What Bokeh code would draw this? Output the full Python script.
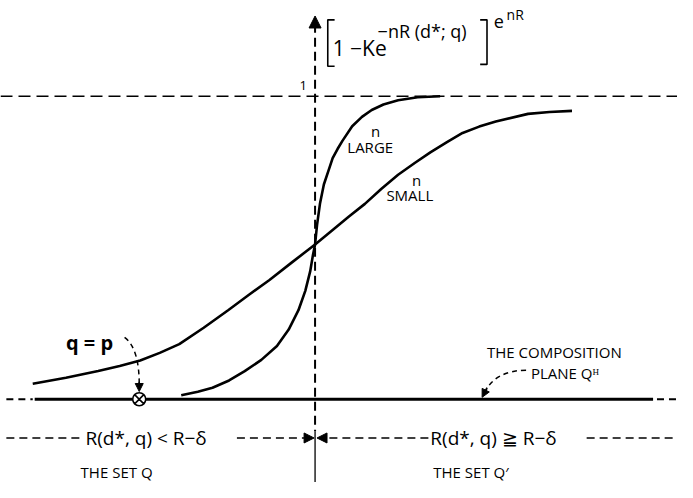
from bokeh.plotting import figure
from bokeh.models import Range1d, Arrow, NormalHead
from bokeh.core.properties import value
from bokeh.embed import file_html
from bokeh.resources import INLINE

# ---- data (x: composition coordinate, y: probability bound value) ----
large_x = [-1.37, -1.20, -1.05, -0.88, -0.72, -0.55, -0.39, -0.27, -0.17, -0.10, -0.05, -0.02,
           0.00, 0.02, 0.05, 0.09, 0.14, 0.18, 0.23, 0.28, 0.38, 0.48, 0.58, 0.70, 0.85, 1.05, 1.28]
large_y = [0.013, 0.025, 0.038, 0.062, 0.093, 0.130, 0.176, 0.230, 0.294, 0.358, 0.422, 0.479,
           0.511, 0.575, 0.645, 0.709, 0.757, 0.796, 0.826, 0.853, 0.901, 0.932, 0.955, 0.973,
           0.987, 0.997, 1.0]
small_x = [-2.89, -2.55, -2.22, -2.00, -1.79, -1.59, -1.39, -1.14, -0.89, -0.68, -0.47, -0.24,
           0.00, 0.18, 0.35, 0.51, 0.68, 0.85, 1.02, 1.18, 1.35, 1.51, 1.68, 1.85, 2.18, 2.40, 2.63]
small_y = [0.051, 0.071, 0.093, 0.110, 0.128, 0.153, 0.182, 0.236, 0.294, 0.344, 0.393, 0.451,
           0.511, 0.559, 0.604, 0.645, 0.695, 0.741, 0.780, 0.815, 0.849, 0.879, 0.900, 0.917,
           0.942, 0.948, 0.952]
upper_level = 1.0
plane_level = 0.0
qp_x = -1.80

FONT = "Open Sans"


def X(px):
    return (px - 322) / 100.0


def Y(py):
    return (412 - py) / 313.0


p = figure(width=677, height=482, output_backend="svg", toolbar_location=None,
           x_range=Range1d(X(0), X(693)), y_range=Range1d(Y(498), Y(0)),
           min_border=0)
p.axis.visible = False
p.grid.visible = False
p.outline_line_color = None
p.background_fill_color = "white"
p.border_fill_color = "white"

K = "black"

# level 1 dashed line
p.line([X(0), X(693)], [upper_level, upper_level], line_color=K, line_width=1.5, line_dash="12 6")

# composition plane
p.line([X(35), X(668)], [plane_level, plane_level], line_color=K, line_width=3)
p.line([X(6), X(33)], [plane_level, plane_level], line_color=K, line_width=2, line_dash="7 5")
p.line([X(672), X(693)], [plane_level, plane_level], line_color=K, line_width=2, line_dash="7 5")

# vertical axis
p.line([0, 0], [Y(24), Y(445)], line_color=K, line_width=2, line_dash="9 5")
p.line([0, 0], [Y(445), Y(498)], line_color=K, line_width=1.3)
p.add_layout(Arrow(end=NormalHead(size=12, fill_color=K, line_color=K), x_start=0, y_start=Y(30),
                   x_end=0, y_end=Y(16), line_width=2, line_color=K))

# curves
p.line(large_x, large_y, line_color=K, line_width=2.6)
p.line(small_x, small_y, line_color=K, line_width=2.6)

# q = p point
p.scatter(x=[qp_x], y=[plane_level], marker="circle_x", size=13, fill_color="white",
          line_color=K, line_width=1.6)
p.bezier(x0=[X(127)], y0=[Y(348)], x1=[X(142)], y1=[Y(396)], cx0=[X(138)], cy0=[Y(356)],
         cx1=[X(142)], cy1=[Y(375)], line_color=K, line_width=1.5, line_dash="5 4")
p.add_layout(Arrow(end=NormalHead(size=8, fill_color=K, line_color=K), x_start=qp_x, y_start=Y(394),
                   x_end=qp_x, y_end=Y(404), line_width=1.5, line_color=K))


def txt(x, y, s, size, align="left", bold=False):
    p.text(x=[X(x)], y=[Y(y)], text=[s], text_font=value(FONT), text_font_size=f"{size}px",
           text_align=align, text_baseline="middle", text_color=K,
           text_font_style="bold" if bold else "normal")


txt(67, 353, "q = p", 20, bold=True)

# top label
p.line([X(342), X(335), X(335), X(342)], [Y(20), Y(20), Y(68), Y(68)], line_color=K, line_width=1.6)
p.line([X(491), X(498), X(498), X(491)], [Y(20), Y(20), Y(66), Y(66)], line_color=K, line_width=1.6)
txt(340, 49, "1 \u2212Ke", 21)
txt(386, 32, "\u2212nR (d*; q)", 18)
txt(505, 22, "e", 18)
txt(518, 14, "nR", 14)
txt(306, 88, "1", 13)

# curve labels
txt(384, 135, "n", 15, align="center")
txt(355, 151, "LARGE", 15)
txt(426, 185, "n", 15, align="center")
txt(395, 201, "SMALL", 15)

# composition plane label
txt(498, 363, "THE COMPOSITION", 15)
txt(543, 385, "PLANE Q\u1d34", 15)
p.bezier(x0=[X(538)], y0=[Y(382)], x1=[X(496)], y1=[Y(405)], cx0=[X(518)], cy0=[Y(382)],
         cx1=[X(502)], cy1=[Y(390)], line_color=K, line_width=1.5, line_dash="5 4")
p.add_layout(Arrow(end=NormalHead(size=8, fill_color=K, line_color=K), x_start=X(498), y_start=Y(400),
                   x_end=X(493), y_end=Y(410), line_width=1.5, line_color=K))

# lower region labels
ly = 452
p.line([X(6), X(85)], [Y(ly), Y(ly)], line_color=K, line_width=1.5, line_dash="8 5")
txt(87, ly, "R(d*, q) < R\u2212\u03b4", 19)
p.add_layout(Arrow(end=NormalHead(size=10, fill_color=K, line_color=K), x_start=X(242), y_start=Y(ly),
                   x_end=X(321), y_end=Y(ly), line_width=1.5, line_color=K, line_dash="8 5"))
p.add_layout(Arrow(end=NormalHead(size=10, fill_color=K, line_color=K), x_start=X(438), y_start=Y(ly),
                   x_end=X(324), y_end=Y(ly), line_width=1.5, line_color=K, line_dash="8 5"))
txt(440, ly, "R(d*, q) \u2267 R\u2212\u03b4", 19)
p.line([X(600), X(693)], [Y(ly), Y(ly)], line_color=K, line_width=1.5, line_dash="8 5")

txt(82, 487, "THE SET Q", 15)
txt(443, 487, "THE SET Q\u2032", 15)

open("out.html", "w").write(file_html(p, INLINE))
